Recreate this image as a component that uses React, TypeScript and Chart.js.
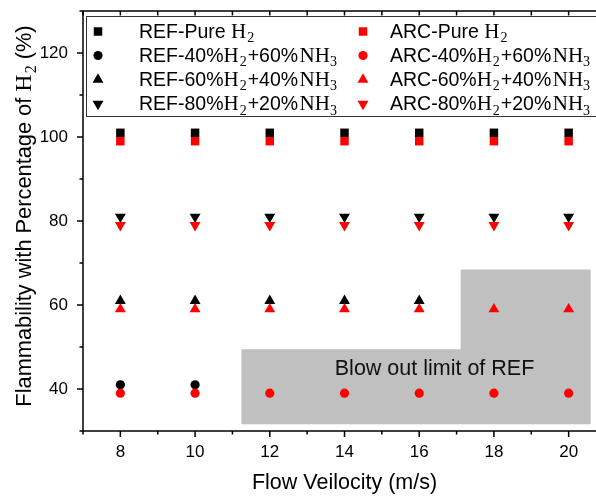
import React, { useEffect, useRef } from 'react';
import { Chart, registerables } from 'chart.js';

Chart.register(...registerables);

// Flow velocity categories (m/s)
const velocities = [8, 10, 12, 14, 16, 18, 20];

// REF burner: flammability points (offset +1 so both burners stay visible)
const refPureH2 = [101, 101, 101, 101, 101, 101, 101];
const refH2_40 = [41, 41];
const refH2_60 = [61, 61, 61, 61, 61];
const refH2_80 = [81, 81, 81, 81, 81, 81, 81];

// ARC burner: flammability points (offset -1)
const arcPureH2 = [99, 99, 99, 99, 99, 99, 99];
const arcH2_40 = [39, 39, 39, 39, 39, 39, 39];
const arcH2_60 = [59, 59, 59, 59, 59, 59, 59];
const arcH2_80 = [79, 79, 79, 79, 79, 79, 79];

// Tick labels
const xTickLabels = ['8', '10', '12', '14', '16', '18', '20'];
const yTickLabels = ['40', '60', '80', '100', '120'];

// Blow-out region of the REF burner (stepped outline, data units)
const blowOutX = [11.24, 11.24, 17.11, 17.11, 20.59, 20.59];
const blowOutY = [31.6, 49.44, 49.44, 68.47, 68.47, 31.6];
const blowOutLabel = 'Blow out limit of REF';
const blowOutLabelAt = { x: 16.41, y: 44.7 };

const SANS = '"Liberation Sans", Arial, sans-serif';
const SERIF = '"Liberation Serif", "Times New Roman", serif';

type Part = { t: string; serif?: boolean; sub?: boolean; gap?: number };

const h2: Part[] = [{ t: 'H', serif: true }, { t: '2', serif: true, sub: true, gap: 1 }];
const nh3: Part[] = [{ t: 'NH', serif: true, gap: 1.5 }, { t: '3', serif: true, sub: true }];

const mixLabel = (prefix: string, h: string, n: string): Part[] => [
  { t: `${prefix}-${h}%` },
  ...h2,
  { t: `+${n}%`, gap: 1 },
  ...nh3,
];

const labelPure = (prefix: string): Part[] => [{ t: `${prefix}-Pure ` }, ...h2];

type Series = {
  parts: Part[];
  values: number[];
  color: string;
  style: 'rect' | 'circle' | 'triangle';
  rot: number;
  order: number;
};

const series: Series[] = [
  { parts: labelPure('REF'), values: refPureH2, color: '#000000', style: 'rect', rot: 0, order: 1 },
  { parts: mixLabel('REF', '40', '60'), values: refH2_40, color: '#000000', style: 'circle', rot: 0, order: 1 },
  { parts: mixLabel('REF', '60', '40'), values: refH2_60, color: '#000000', style: 'triangle', rot: 0, order: 1 },
  { parts: mixLabel('REF', '80', '20'), values: refH2_80, color: '#000000', style: 'triangle', rot: 180, order: 1 },
  { parts: labelPure('ARC'), values: arcPureH2, color: '#FF0000', style: 'rect', rot: 0, order: 0 },
  { parts: mixLabel('ARC', '40', '60'), values: arcH2_40, color: '#FF0000', style: 'circle', rot: 0, order: 0 },
  { parts: mixLabel('ARC', '60', '40'), values: arcH2_60, color: '#FF0000', style: 'triangle', rot: 0, order: 0 },
  { parts: mixLabel('ARC', '80', '20'), values: arcH2_80, color: '#FF0000', style: 'triangle', rot: 180, order: 0 },
];

const radiusFor = (style: string) => (style === 'rect' ? 6 : style === 'circle' ? 4.6 : 6.3);

function partFont(p: Part, size: number) {
  if (p.sub) return `${Math.round(size * 0.72)}px ${SERIF}`;
  if (p.serif) return `${Math.round(size * 1.1)}px ${SERIF}`;
  return `${size}px ${SANS}`;
}

function richWidth(ctx: CanvasRenderingContext2D, parts: Part[], size: number) {
  let w = 0;
  for (const p of parts) {
    ctx.font = partFont(p, size);
    w += ctx.measureText(p.t).width + (p.gap || 0);
  }
  return w;
}

// Draws mixed sans/serif text with subscripts, starting at x on baseline y
function drawRich(ctx: CanvasRenderingContext2D, parts: Part[], x: number, y: number, size: number) {
  ctx.textAlign = 'left';
  ctx.textBaseline = 'alphabetic';
  let cx = x;
  for (const p of parts) {
    ctx.font = partFont(p, size);
    cx += p.gap || 0;
    ctx.fillText(p.t, cx, p.sub ? y + size * 0.22 : y);
    cx += ctx.measureText(p.t).width;
  }
}

function drawMarker(ctx: CanvasRenderingContext2D, style: string, rot: number, x: number, y: number, color: string) {
  const r = radiusFor(style);
  ctx.save();
  ctx.fillStyle = color;
  ctx.beginPath();
  if (style === 'rect') {
    const s = Math.SQRT1_2 * r;
    ctx.rect(x - s, y - s, 2 * s, 2 * s);
  } else if (style === 'circle') {
    ctx.arc(x, y, r, 0, Math.PI * 2);
  } else {
    let a = (rot * Math.PI) / 180;
    ctx.moveTo(x + Math.sin(a) * r, y - Math.cos(a) * r);
    a += (2 * Math.PI) / 3;
    ctx.lineTo(x + Math.sin(a) * r, y - Math.cos(a) * r);
    a += (2 * Math.PI) / 3;
    ctx.lineTo(x + Math.sin(a) * r, y - Math.cos(a) * r);
    ctx.closePath();
  }
  ctx.fill();
  ctx.restore();
}

const blowOutPlugin = {
  id: 'blowOut',
  beforeDatasetsDraw(chart: any) {
    const { ctx, scales } = chart;
    const xs = scales.x;
    const ys = scales.y;
    ctx.save();
    ctx.fillStyle = '#C0C0C0';
    ctx.beginPath();
    blowOutX.forEach((vx, i) => {
      const px = xs.getPixelForValue(vx);
      const py = ys.getPixelForValue(blowOutY[i]);
      if (i === 0) ctx.moveTo(px, py);
      else ctx.lineTo(px, py);
    });
    ctx.closePath();
    ctx.fill();
    ctx.fillStyle = '#111111';
    ctx.font = `21.5px ${SANS}`;
    ctx.textAlign = 'center';
    ctx.textBaseline = 'middle';
    ctx.fillText(blowOutLabel, xs.getPixelForValue(blowOutLabelAt.x), ys.getPixelForValue(blowOutLabelAt.y));
    ctx.restore();
  },
};

const framePlugin = {
  id: 'frame',
  afterDraw(chart: any) {
    const { ctx, chartArea, scales } = chart;
    const { left, right, top, bottom } = chartArea;
    const xs = scales.x;
    const ys = scales.y;
    ctx.save();
    ctx.strokeStyle = '#000000';
    ctx.lineWidth = 1.5;
    ctx.lineCap = 'butt';

    // axis lines: left, bottom, top
    ctx.beginPath();
    ctx.moveTo(left, top);
    ctx.lineTo(left, bottom);
    ctx.moveTo(left, bottom);
    ctx.lineTo(right, bottom);
    ctx.moveTo(left, top);
    ctx.lineTo(right, top);
    ctx.stroke();

    // tick marks
    ctx.beginPath();
    for (const t of xs.ticks) {
      const px = xs.getPixelForValue(t.value);
      const major = xTickLabels.includes(String(t.value));
      ctx.moveTo(px, bottom);
      ctx.lineTo(px, bottom + (major ? 6 : 3.5));
      ctx.moveTo(px, top);
      ctx.lineTo(px, top + 4.5);
    }
    for (const t of ys.ticks) {
      const py = ys.getPixelForValue(t.value);
      const major = yTickLabels.includes(String(t.value));
      ctx.moveTo(left, py);
      ctx.lineTo(left - (major ? 6 : 3.5), py);
    }
    ctx.stroke();

    // legend box
    const lx = 86.5;
    const ly = 16.5;
    ctx.lineWidth = 1;
    ctx.strokeStyle = '#333333';
    ctx.fillStyle = '#ffffff';
    ctx.fillRect(lx, ly, chart.width - lx + 10, 100);
    ctx.strokeRect(lx, ly, chart.width - lx + 10, 100);

    ctx.fillStyle = '#000000';
    const rowY = [31.5, 55.5, 79.5, 104];
    series.forEach((s, i) => {
      const col = i < 4 ? 0 : 1;
      const row = i % 4;
      const mx = col === 0 ? 98 : 363;
      const tx = col === 0 ? 139 : 390;
      drawMarker(ctx, s.style, s.rot, mx, rowY[row], s.color);
      ctx.fillStyle = '#000000';
      drawRich(ctx, s.parts, tx, rowY[row] + 6.3, 19.5);
    });

    // x axis title
    ctx.fillStyle = '#000000';
    ctx.font = `21.5px ${SANS}`;
    ctx.textAlign = 'center';
    ctx.textBaseline = 'alphabetic';
    ctx.fillText('Flow Veilocity (m/s)', (left + right) / 2, 489);

    // y axis title (rotated, mixed fonts)
    const yParts: Part[] = [{ t: 'Flammability with Percentage of ' }, ...h2, { t: ' (%)' }];
    const w = richWidth(ctx, yParts, 21.8);
    ctx.translate(31, 216);
    ctx.rotate(-Math.PI / 2);
    drawRich(ctx, yParts, -w / 2, 0, 21.8);
    ctx.restore();
  },
};

export default function App() {
  const canvasRef = useRef<HTMLCanvasElement | null>(null);

  useEffect(() => {
    const canvas = canvasRef.current;
    if (!canvas) return;

    const datasets = series.map((s) => ({
      label: s.parts.map((p) => p.t).join(''),
      data: s.values.map((v, i) => ({ x: velocities[i], y: v })),
      pointStyle: s.style,
      pointRotation: s.rot,
      pointRadius: radiusFor(s.style),
      pointHoverRadius: radiusFor(s.style),
      pointBackgroundColor: s.color,
      pointBorderWidth: 0,
      borderColor: s.color,
      backgroundColor: s.color,
      showLine: false,
      order: s.order,
    }));

    const chart = new Chart(canvas, {
      type: 'scatter',
      data: { datasets },
      options: {
        animation: false,
        responsive: false,
        maintainAspectRatio: false,
        layout: { padding: { top: 11, right: 14, left: 0, bottom: 0 } },
        plugins: {
          legend: { display: false },
          tooltip: { enabled: false },
        },
        scales: {
          x: {
            type: 'linear',
            min: 7,
            max: 21,
            grid: { display: false, drawTicks: false },
            border: { display: false },
            afterBuildTicks: (scale: any) => {
              const ticks = [];
              for (let v = 7; v <= 21; v++) ticks.push({ value: v });
              scale.ticks = ticks;
            },
            afterFit: (scale: any) => {
              scale.height = 66;
              scale.paddingLeft = 0;
              scale.paddingRight = 0;
            },
            ticks: {
              autoSkip: false,
              maxRotation: 0,
              padding: 11,
              color: '#000000',
              font: { family: SANS, size: 17 },
              callback: (v: any) => (xTickLabels.includes(String(v)) ? String(v) : ''),
            },
          },
          y: {
            type: 'linear',
            min: 30,
            max: 130,
            grid: { display: false, drawTicks: false },
            border: { display: false },
            afterBuildTicks: (scale: any) => {
              const ticks = [];
              for (let v = 30; v <= 130; v += 10) ticks.push({ value: v });
              scale.ticks = ticks;
            },
            afterFit: (scale: any) => {
              scale.width = 83;
              scale.paddingTop = 0;
              scale.paddingBottom = 0;
            },
            ticks: {
              autoSkip: false,
              padding: 15,
              color: '#000000',
              font: { family: SANS, size: 17 },
              callback: (v: any) => (yTickLabels.includes(String(v)) ? String(v) : ''),
            },
          },
        },
      },
      plugins: [blowOutPlugin, framePlugin],
    });

    return () => chart.destroy();
  }, []);

  return (
    <div
      style={{
        position: 'absolute',
        left: 0,
        top: 0,
        width: 596,
        height: 497,
        overflow: 'hidden',
        background: '#ffffff',
      }}
    >
      <canvas ref={canvasRef} width={620} height={497} style={{ display: 'block' }} />
    </div>
  );
}
